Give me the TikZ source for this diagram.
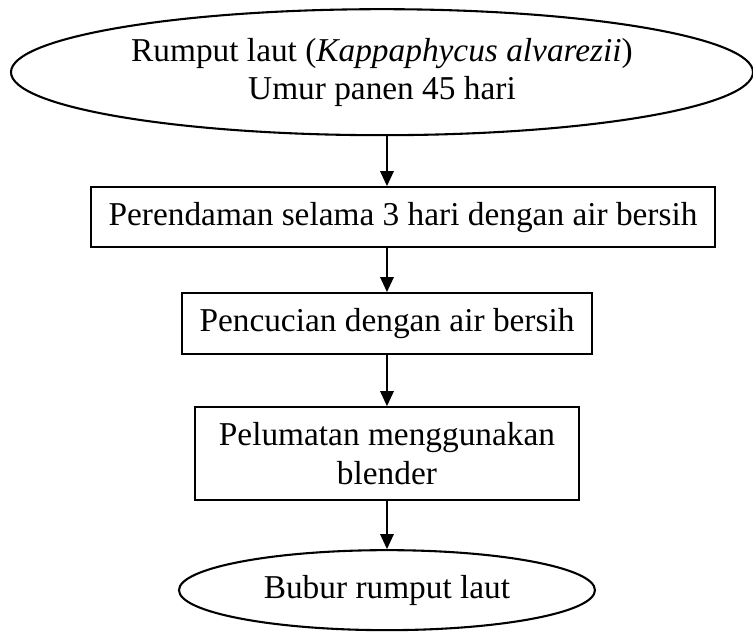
\documentclass[tikz,border=0pt]{standalone}
\usepackage{fontspec}
\setmainfont{Liberation Serif}
\usetikzlibrary{arrows.meta}
\usetikzlibrary{positioning}
\usetikzlibrary{shapes.geometric}
\usetikzlibrary{calc}
\definecolor{flowInk}{HTML}{000000}
\definecolor{flowPaper}{HTML}{ffffff}
\tikzset{
  flow box/.style={
    rectangle,
    draw=flowInk,
    line width=0.75pt,
    fill=flowPaper,
    text=flowInk,
    align=center,
    font=\fontsize{12pt}{13.8pt}\selectfont,
    inner sep=3pt,
  },
}
\tikzset{
  flow ellipse/.style={
    ellipse,
    draw=flowInk,
    line width=0.75pt,
    fill=flowPaper,
    text=flowInk,
    align=center,
    font=\fontsize{12pt}{13.8pt}\selectfont,
    inner sep=1pt,
  },
}
\tikzset{
  flow arrow/.style={
    -{Triangle[length=5.4pt,width=4.8pt]},
    draw=flowInk,
    line width=0.75pt,
  },
}
\tikzset{
  flow figure/.style={
    >=Triangle,
    every node/.append style={font=\fontsize{12pt}{13.8pt}\selectfont},
  },
}
\begin{document}
\begin{tikzpicture}[flow figure]
  \useasboundingbox (0, 0) rectangle (9.525, 8.022);

  % =========================================================================
  % Vertical spine that all arrows follow
  % =========================================================================
  \coordinate (spine) at (4.895, 4.0);

  % =========================================================================
  % Start: raw material (wide ellipse on top)
  % =========================================================================
  \node[flow ellipse, minimum width=9.386cm, minimum height=1.594cm]
    (raw) at (4.832, 7.109)
    {Rumput laut (\textit{Kappaphycus alvarezii})\\Umur panen 45 hari};

  % =========================================================================
  % Processing steps
  % =========================================================================
  \node[flow box, minimum width=7.893cm, minimum height=0.759cm]
    (soak) at (5.098, 5.275) {Perendaman selama 3 hari dengan air bersih};

  \node[flow box, minimum width=5.186cm, minimum height=0.772cm]
    (wash) at (4.895, 3.928) {Pencucian dengan air bersih};

  \node[flow box, minimum width=4.857cm, minimum height=1.176cm]
    (blend) at (4.895, 2.283) {Pelumatan menggunakan\\blender};

  % =========================================================================
  % End: product (small ellipse at the bottom)
  % =========================================================================
  \node[flow ellipse, minimum width=5.262cm, minimum height=1.012cm]
    (pulp) at (4.895, 0.557) {Bubur rumput laut};

  % =========================================================================
  % Arrows down the spine
  % =========================================================================
  \draw[flow arrow] (raw.south -| spine) -- (soak.north -| spine);
  \draw[flow arrow] (soak.south -| spine) -- (wash.north -| spine);
  \draw[flow arrow] (wash.south -| spine) -- (blend.north -| spine);
  \draw[flow arrow] (blend.south -| spine) -- (pulp.north -| spine);

\end{tikzpicture}
\end{document}
